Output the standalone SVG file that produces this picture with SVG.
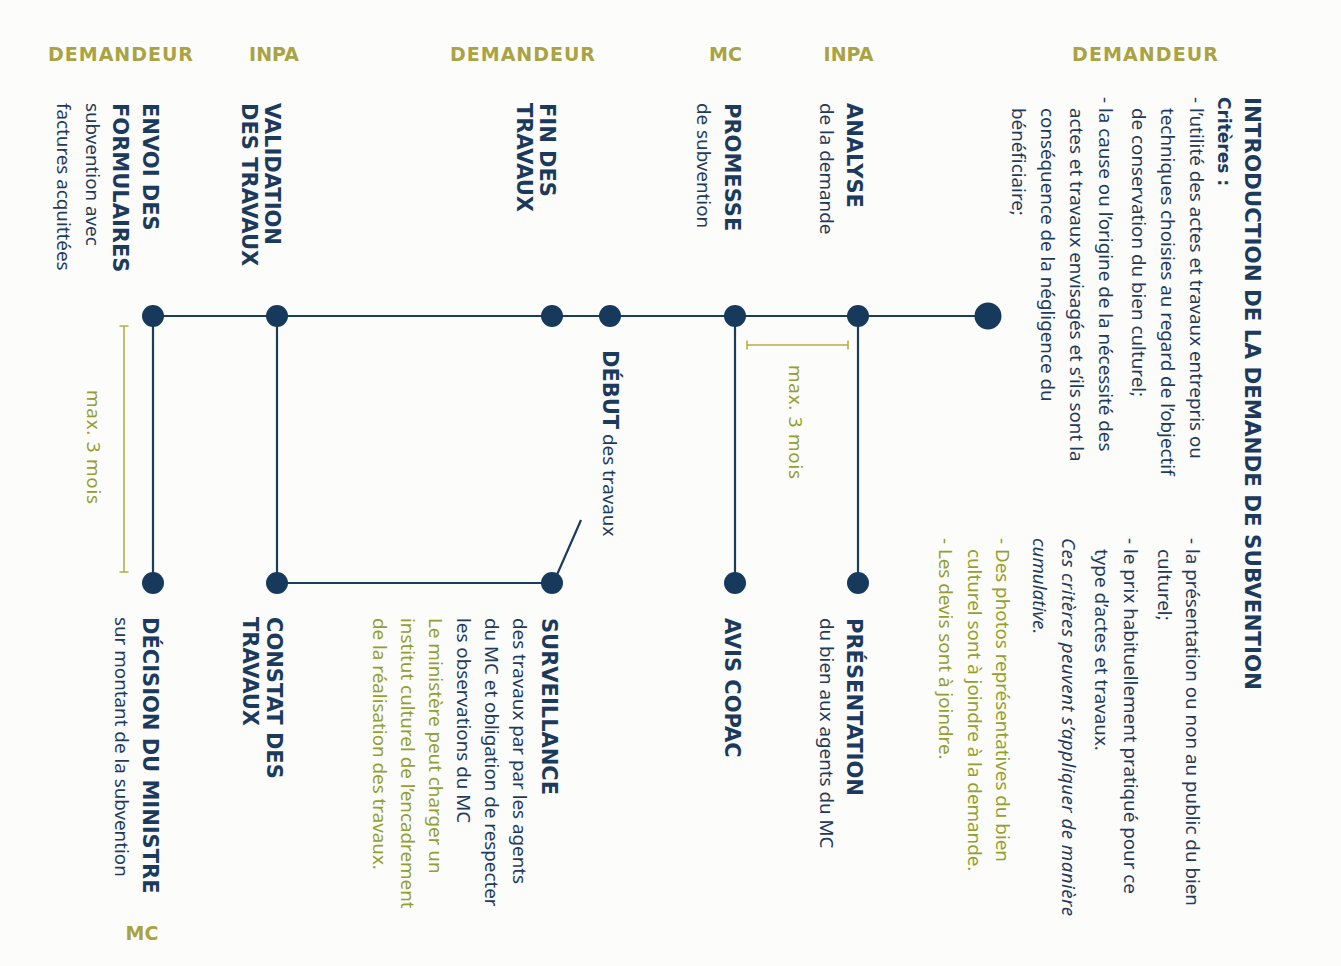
<svg xmlns="http://www.w3.org/2000/svg" width="1341" height="966" viewBox="0 0 1341 966">
<style>
.hd{font-family:"DejaVu Sans",sans-serif;font-weight:bold;font-size:19px;fill:#a9a343;text-anchor:middle}
.b{font-family:"DejaVu Sans",sans-serif;font-weight:bold;font-size:21px;fill:#1b3a5c}
.r{font-family:"Noto Sans",sans-serif;font-size:18.8px;fill:#1f3b5a}
.g{font-family:"Noto Sans",sans-serif;font-size:18.8px;fill:#93a02f}
.i{font-style:italic}
.ln{stroke:#1c3c5e;stroke-width:2.2;fill:none}
.br{stroke:#b3ae48;stroke-width:1.6;fill:none}
.dot{fill:#173a5c}
</style>
<rect width="1341" height="966" fill="#fcfcfa"/>

<g id="headers">
<text class="hd" x="120.5" y="61" textLength="145">DEMANDEUR</text>
<text class="hd" x="274" y="61">INPA</text>
<text class="hd" x="522.5" y="61" textLength="145">DEMANDEUR</text>
<text class="hd" x="725.5" y="61">MC</text>
<text class="hd" x="848.5" y="61">INPA</text>
<text class="hd" x="1145" y="61" textLength="146">DEMANDEUR</text>
<text class="hd" x="142" y="940">MC</text>
</g>

<g id="connectors">
<path class="ln" d="M153 316 H988"/>
<path class="ln" d="M858 316 V583 M735 316 V583 M277 316 V583 M153 316 V583 M277 583 H552 M556 577 L581 520"/>
</g>

<g id="annotations">
<path class="br" d="M747 345 H848 M747 340.5 V349.5 M848 340.5 V349.5"/>
<text class="g" transform="translate(789,365) rotate(90)" textLength="114">max. 3 mois</text>
<path class="br" d="M124 326 V572 M119.5 326 H128.5 M119.5 572 H128.5"/>
<text class="g" transform="translate(87,390) rotate(90)" textLength="114">max. 3 mois</text>
</g>

<g id="introduction">
<circle class="dot" cx="988" cy="316" r="13.5"/>
<g transform="translate(1245,97) rotate(90)">
<text class="b" x="0" y="0" font-size="21.5" textLength="593" lengthAdjust="spacingAndGlyphs">INTRODUCTION DE LA DEMANDE DE SUBVENTION</text>
<text class="b" x="0" y="27" style="font-size:17px">Critères :</text>
<text class="r">
<tspan x="0" y="55">- l’utilité des actes et travaux entrepris ou</tspan>
<tspan x="11" y="84">techniques choisies au regard de l’objectif</tspan>
<tspan x="11" y="113">de conservation du bien culturel;</tspan>
<tspan x="0" y="146">- la cause ou l’origine de la nécessité des</tspan>
<tspan x="11" y="175">actes et travaux envisagés et s’ils sont la</tspan>
<tspan x="11" y="204">conséquence de la négligence du</tspan>
<tspan x="11" y="233">bénéficiaire;</tspan>
<tspan x="441" y="59">- la présentation ou non au public du bien</tspan>
<tspan x="452" y="87">culturel;</tspan>
<tspan x="441" y="121">- le prix habituellement pratiqué pour ce</tspan>
<tspan x="452" y="150">type d’actes et travaux.</tspan>
<tspan x="441" y="183" class="i" textLength="378">Ces critères peuvent s’appliquer de manière</tspan>
<tspan x="441" y="212" class="i">cumulative.</tspan>
</text>
<text class="g">
<tspan x="441" y="249">- Des photos représentatives du bien</tspan>
<tspan x="452" y="277">culturel sont à joindre à la demande.</tspan>
<tspan x="441" y="306">- Les devis sont à joindre.</tspan>
</text>
</g>
</g>

<g id="analyse">
<circle class="dot" cx="858" cy="316" r="11"/>
<g transform="translate(847,103) rotate(90)">
<text class="b" x="0" y="0">ANALYSE</text>
<text class="r" x="0" y="27">de la demande</text>
</g>
</g>

<g id="presentation">
<circle class="dot" cx="858" cy="583" r="11"/>
<g transform="translate(847,618) rotate(90)">
<text class="b" x="0" y="0">PRÉSENTATION</text>
<text class="r" x="0" y="27">du bien aux agents du MC</text>
</g>
</g>

<g id="promesse">
<circle class="dot" cx="735" cy="316" r="11"/>
<g transform="translate(725,103) rotate(90)">
<text class="b" x="0" y="0">PROMESSE</text>
<text class="r" x="0" y="28">de subvention</text>
</g>
</g>

<g id="avis-copac">
<circle class="dot" cx="735" cy="583" r="11"/>
<g transform="translate(725,618) rotate(90)">
<text class="b" x="0" y="0">AVIS COPAC</text>
</g>
</g>

<g id="debut">
<circle class="dot" cx="610" cy="316" r="11"/>
<g transform="translate(603,350) rotate(90)">
<text x="0" y="0"><tspan class="b">DÉBUT</tspan><tspan class="r"> des travaux</tspan></text>
</g>
</g>

<g id="fin">
<circle class="dot" cx="552" cy="316" r="11"/>
<g transform="translate(540,103) rotate(90)">
<text class="b" x="0" y="0">FIN DES</text>
<text class="b" x="0" y="23">TRAVAUX</text>
</g>
</g>

<g id="surveillance">
<circle class="dot" cx="552" cy="583" r="11"/>
<g transform="translate(542,618) rotate(90)">
<text class="b" x="0" y="0">SURVEILLANCE</text>
<text class="r">
<tspan x="0" y="29">des travaux par par les agents</tspan>
<tspan x="0" y="57">du MC et obligation de respecter</tspan>
<tspan x="0" y="85">les observations du MC</tspan>
</text>
<text class="g">
<tspan x="0" y="113">Le ministère peut charger un</tspan>
<tspan x="0" y="141">institut culturel de l’encadrement</tspan>
<tspan x="0" y="169">de la réalisation des travaux.</tspan>
</text>
</g>
</g>

<g id="validation">
<circle class="dot" cx="277" cy="316" r="11"/>
<g transform="translate(265,103) rotate(90)">
<text class="b" x="0" y="0">VALIDATION</text>
<text class="b" x="0" y="23">DES TRAVAUX</text>
</g>
</g>

<g id="constat">
<circle class="dot" cx="277" cy="583" r="11"/>
<g transform="translate(267,617) rotate(90)">
<text class="b" x="0" y="0">CONSTAT DES</text>
<text class="b" x="0" y="24">TRAVAUX</text>
</g>
</g>

<g id="envoi">
<circle class="dot" cx="153" cy="316" r="11"/>
<g transform="translate(143,103) rotate(90)">
<text class="b" x="0" y="0">ENVOI DES</text>
<text class="b" x="0" y="30">FORMULAIRES</text>
<text class="r" x="0" y="57">subvention avec</text>
<text class="r" x="0" y="86">factures acquittées</text>
</g>
</g>

<g id="decision">
<circle class="dot" cx="153" cy="583" r="11"/>
<g transform="translate(143,617) rotate(90)">
<text class="b" x="0" y="0">DÉCISION DU MINISTRE</text>
<text class="r" x="0" y="28">sur montant de la subvention</text>
</g>
</g>
</svg>
